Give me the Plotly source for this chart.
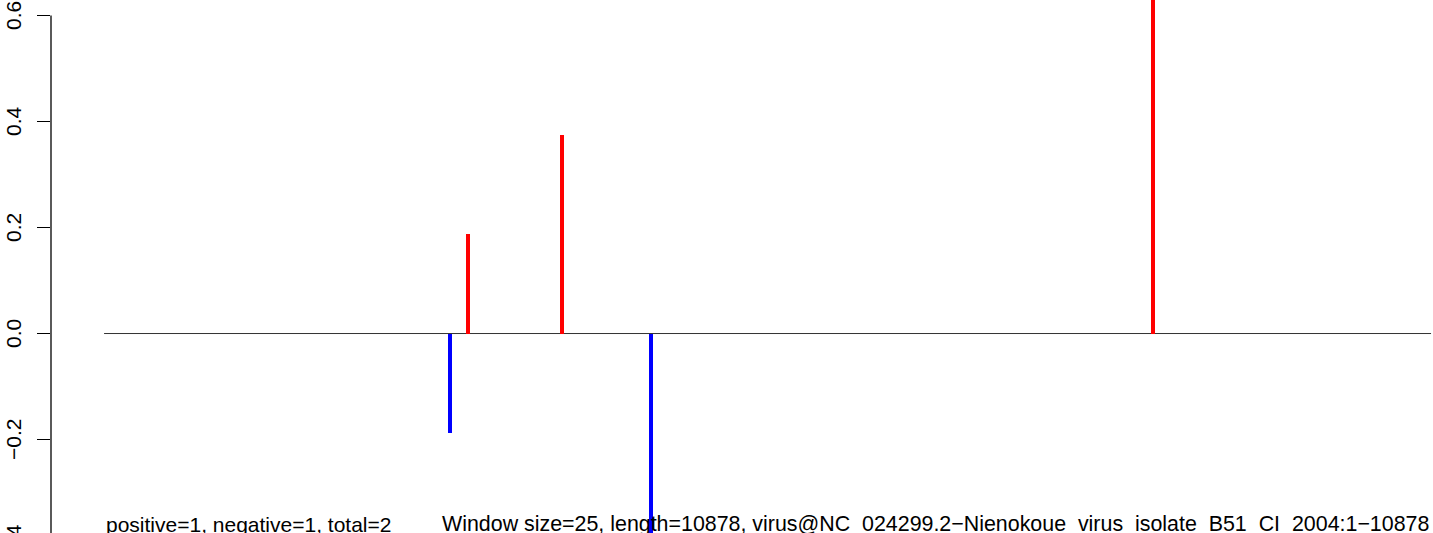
import plotly.graph_objects as go

# Sliding-window scores along the genome (position in bp, score)
positions = [2837, 2985, 3755, 4484, 8599]
scores = [-0.188, 0.187, 0.375, -0.38, 0.80]
genome_start = 1
genome_length = 10878

y_ticks = [-0.4, -0.2, 0.0, 0.2, 0.4, 0.6]
y_tick_text = ["\u22120.4", "\u22120.2", "0.0", "0.2", "0.4", "0.6"]

summary_text = "positive=1, negative=1, total=2"
info_text = ("Window size=25, length=10878, "
             "virus@NC_024299.2\u2212Nienokoue_virus_isolate_B51_CI_2004:1\u221210878")

x_range = [-434, 10894]
y_range = [-0.3764, 0.6293]

font = dict(family="Liberation Sans, Arial, sans-serif", size=21, color="black")
info_font = dict(font, size=21.4)

colors = ["red" if s > 0 else "blue" for s in scores]

fig = go.Figure()
fig.add_trace(go.Bar(
    x=positions, y=scores, base=0, width=33,
    marker=dict(color=colors, line=dict(width=0)),
    showlegend=False, hoverinfo="skip",
))

# baseline at zero across the genome
fig.add_shape(type="line", xref="x", yref="y",
              x0=genome_start, x1=genome_length, y0=0, y1=0,
              line=dict(color="#333333", width=1), layer="below")

# y axis line spanning first to last tick
fig.add_shape(type="line", xref="paper", yref="y",
              x0=0, x1=0, y0=y_ticks[0], y1=y_ticks[-1],
              line=dict(color="black", width=1.3))

# rotated y tick labels (R style, reading bottom to top)
span = y_range[1] - y_range[0]
for v, t in zip(y_ticks, y_tick_text):
    fig.add_annotation(x=0, y=(v - y_range[0]) / span, xref="paper", yref="paper",
                       text=t, textangle=-90, showarrow=False,
                       xanchor="right", yanchor="middle", xshift=-24, font=font)

fig.add_annotation(x=genome_start, y=0, xref="x", yref="paper",
                   text=summary_text, showarrow=False,
                   xanchor="left", yanchor="bottom", yshift=-5, font=font)
fig.add_annotation(x=genome_length, y=0, xref="x", yref="paper",
                   text=info_text, showarrow=False,
                   xanchor="right", yanchor="bottom", yshift=-5, font=info_font)

fig.update_layout(
    width=1433, height=533,
    margin=dict(l=51, r=0, t=0, b=0),
    paper_bgcolor="white", plot_bgcolor="white",
    font=font,
    xaxis=dict(range=x_range, visible=False, fixedrange=True),
    yaxis=dict(range=y_range, tickmode="array", tickvals=y_ticks,
               showticklabels=False,
               ticks="outside", ticklen=13, tickwidth=1.3, tickcolor="black",
               showline=False, showgrid=False, zeroline=False),
    bargap=0,
)

fig.write_html("out.html")
